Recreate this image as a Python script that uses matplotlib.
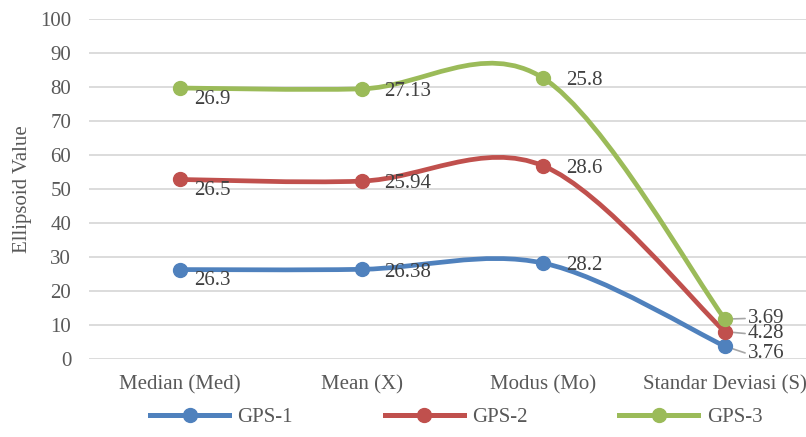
import numpy as np
import matplotlib.pyplot as plt
from matplotlib.path import Path
from matplotlib.patches import PathPatch

categories = ['Median (Med)', 'Mean (X)', 'Modus (Mo)', 'Standar Deviasi (S)']
gps1 = [26.3, 26.38, 28.2, 3.76]
gps2 = [26.5, 25.94, 28.6, 4.28]
gps3 = [26.9, 27.13, 25.8, 3.69]
series_names = ['GPS-1', 'GPS-2', 'GPS-3']
colors = ['#4F81BD', '#C0504D', '#9BBB59']

plt.rcParams['font.family'] = ['Liberation Serif', 'DejaVu Serif']
text_color = '#595959'


def smooth_path(xs, ys):
    # catmull-rom style bezier, like the "smoothed line" option in office charts
    n = len(xs)
    verts = [(xs[0], ys[0])]
    codes = [Path.MOVETO]
    for i in range(n - 1):
        x0, y0 = xs[max(i - 1, 0)], ys[max(i - 1, 0)]
        x1, y1 = xs[i], ys[i]
        x2, y2 = xs[i + 1], ys[i + 1]
        x3, y3 = xs[min(i + 2, n - 1)], ys[min(i + 2, n - 1)]
        c1 = (x1 + (x2 - x0) / 6, y1 + (y2 - y0) / 6)
        c2 = (x2 - (x3 - x1) / 6, y2 - (y3 - y1) / 6)
        verts += [c1, c2, (x2, y2)]
        codes += [Path.CURVE4] * 3
    return Path(verts, codes)


fig = plt.figure(figsize=(8.06, 4.37), dpi=100)
ax = fig.add_axes([89.25 / 806, 78 / 437, 726.5 / 806, 340 / 437])

x = np.arange(len(categories))
stacked = np.cumsum([gps1, gps2, gps3], axis=0)
raw = [gps1, gps2, gps3]

for k in range(3):
    ax.add_patch(PathPatch(smooth_path(x, stacked[k]), fill=False,
                           edgecolor=colors[k], lw=3.4, capstyle='round', zorder=3))
    ax.plot(x, stacked[k], 'o', color=colors[k], ms=10, zorder=4)
    # legend handle
    ax.plot([], [], '-o', color=colors[k], lw=3.6, ms=10, label=series_names[k])

# data labels show the series' own values
for k in range(3):
    for i in range(3):
        val = raw[k][i]
        pt = (x[i], stacked[k][i])
        off = (10, -8) if i == 0 else (16.5, -2)
        ax.annotate(f'{val:g}', pt, xytext=off, textcoords='offset points',
                    ha='left', va='center', fontsize=15, color='#404040')

# last category: labels pushed right with leader lines
sd_dy = [-5.5, -1.5, 0.5]
for k in range(3):
    pt = (x[3], stacked[k][3])
    ax.annotate(f'{raw[k][3]:g}', pt, xytext=(16.5, sd_dy[k]),
                textcoords='offset points', ha='left', va='center', fontsize=15,
                color='#404040',
                arrowprops=dict(arrowstyle='-', color='#A6A6A6', lw=1.2,
                                shrinkA=0, shrinkB=6, relpos=(0, 0.5)))

ax.set_xlim(-0.5, 3.5)
ax.set_ylim(0, 100)
ax.set_yticks(range(0, 101, 10))
ax.set_xticks(x)
ax.set_xticklabels(categories)
ax.grid(axis='y', color='#D9D9D9', lw=1.3)
ax.set_axisbelow(True)
for s in ax.spines.values():
    s.set_visible(False)
ax.tick_params(axis='both', length=0, labelsize=15, colors=text_color)
ax.tick_params(axis='y', pad=13)
ax.tick_params(axis='x', pad=12)
ax.set_ylabel('Ellipsoid Value', fontsize=15, color=text_color, labelpad=6)

fig.legend(loc='center', bbox_to_anchor=(0.566, 0.045), ncol=3, frameon=False,
           fontsize=15, labelcolor=text_color, handlelength=3.8, columnspacing=4.4,
           handletextpad=0.4)

fig.savefig('out.png', dpi=100)
